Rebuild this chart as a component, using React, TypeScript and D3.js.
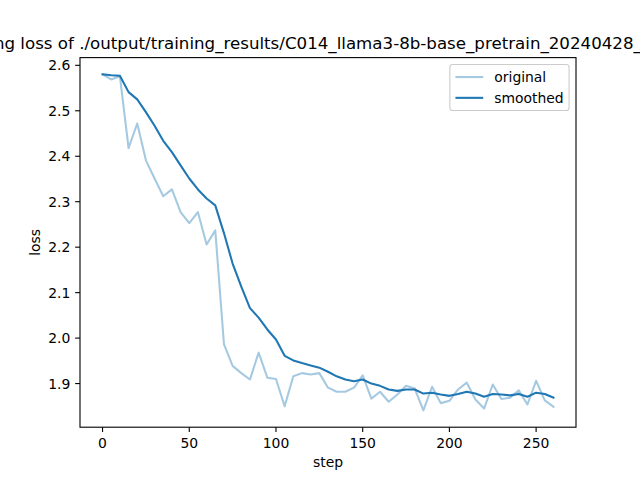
import React from "react";
import * as d3 from "d3";

const steps = [0, 5, 10, 15, 20, 25, 30, 35, 40, 45, 50, 55, 60, 65, 70, 75, 80, 85, 90, 95, 100, 105, 110, 115, 120, 125, 130, 135, 140, 145, 150, 155, 160, 165, 170, 175, 180, 185, 190, 195, 200, 205, 210, 215, 220, 225, 230, 235, 240, 245, 250, 255, 260];

const originalLoss = [2.580, 2.569, 2.576, 2.418, 2.472, 2.391, 2.351, 2.312, 2.327, 2.277, 2.253, 2.277, 2.206, 2.237, 1.987, 1.939, 1.923, 1.909, 1.968, 1.913, 1.910, 1.850, 1.916, 1.923, 1.920, 1.923, 1.891, 1.882, 1.882, 1.891, 1.918, 1.867, 1.882, 1.860, 1.876, 1.895, 1.889, 1.841, 1.893, 1.857, 1.862, 1.887, 1.902, 1.865, 1.845, 1.898, 1.866, 1.869, 1.885, 1.854, 1.906, 1.863, 1.849];

const smoothedLoss = [2.580, 2.578, 2.577, 2.541, 2.525, 2.497, 2.467, 2.434, 2.409, 2.380, 2.351, 2.327, 2.307, 2.292, 2.231, 2.164, 2.113, 2.066, 2.045, 2.019, 1.997, 1.961, 1.951, 1.945, 1.940, 1.935, 1.926, 1.916, 1.909, 1.905, 1.909, 1.900, 1.895, 1.887, 1.884, 1.887, 1.887, 1.878, 1.880, 1.876, 1.873, 1.877, 1.882, 1.878, 1.871, 1.877, 1.876, 1.874, 1.877, 1.871, 1.880, 1.877, 1.869];

const xTicks = [0, 50, 100, 150, 200, 250];
const yTicks = [1.9, 2.0, 2.1, 2.2, 2.3, 2.4, 2.5, 2.6];
const seriesLabels = ["original", "smoothed"];
const titleText = "training loss of ./output/training_results/C014_llama3-8b-base_pretrain_20240428_031547";

export default function App() {
  const W = 640, H = 480;
  const L = 80, R = 576, T = 57.6, B = 427.2;
  const color = "#1f77b4";
  const font = "'DejaVu Sans', sans-serif";
  const fs = 13.9;

  const xExt = d3.extent(steps) as [number, number];
  const xPad = (xExt[1] - xExt[0]) * 0.05;
  const x = d3.scaleLinear().domain([xExt[0] - xPad, xExt[1] + xPad]).range([L, R]);

  const all = originalLoss.concat(smoothedLoss);
  const yExt = d3.extent(all) as [number, number];
  const yPad = (yExt[1] - yExt[0]) * 0.05;
  const y = d3.scaleLinear().domain([yExt[0] - yPad, yExt[1] + yPad]).range([B, T]);

  const line = d3.line<number>().x((_, i) => x(steps[i])).y((d) => y(d));

  const legW = 119.2, legH = 46;
  const legX = R - 6.94 - legW, legY = T + 6.94;
  const rowY = [legY + 12.5, legY + 33.3];

  return (
    <div style={{ position: "fixed", left: 0, top: 0, width: W, height: H, background: "#fff" }}>
      <svg width={W} height={H} style={{ display: "block" }} fontFamily={font}>
        <rect x={0} y={0} width={W} height={H} fill="#fff" />
        <path d={line(originalLoss) || ""} fill="none" stroke={color} strokeOpacity={0.4} strokeWidth={2.08} strokeLinejoin="round" strokeLinecap="square" />
        <path d={line(smoothedLoss) || ""} fill="none" stroke={color} strokeWidth={2.08} strokeLinejoin="round" strokeLinecap="square" />
        <rect x={L} y={T} width={R - L} height={B - T} fill="none" stroke="#000" strokeWidth={1.1} />
        {xTicks.map((t) => (
          <g key={"x" + t}>
            <line x1={x(t)} x2={x(t)} y1={B} y2={B + 4.86} stroke="#000" strokeWidth={1.1} />
            <text x={x(t)} y={B + 9.7 + 10.6} fontSize={fs} textAnchor="middle" fill="#000">{t}</text>
          </g>
        ))}
        {yTicks.map((t) => (
          <g key={"y" + t}>
            <line x1={L - 4.86} x2={L} y1={y(t)} y2={y(t)} stroke="#000" strokeWidth={1.1} />
            <text x={L - 9.7} y={y(t) + 5} fontSize={fs} textAnchor="end" fill="#000">{t.toFixed(1)}</text>
          </g>
        ))}
        <text x={(L + R) / 2} y={467} fontSize={fs} textAnchor="middle" fill="#000">step</text>
        <text transform={`translate(${39.5},${(T + B) / 2}) rotate(-90)`} fontSize={fs} textAnchor="middle" fill="#000">loss</text>
        <text x={(L + R) / 2} y={T - 8.33} fontSize={16.67} textAnchor="middle" fill="#000">{titleText}</text>
        <rect x={legX} y={legY} width={legW} height={legH} rx={2.8} fill="#fff" fillOpacity={0.8} stroke="#cccccc" strokeWidth={1.1} />
        {seriesLabels.map((lab, i) => (
          <g key={lab}>
            <line x1={legX + 5.56} x2={legX + 5.56 + 27.8} y1={rowY[i]} y2={rowY[i]} stroke={color} strokeOpacity={i === 0 ? 0.4 : 1} strokeWidth={2.08} />
            <text x={legX + 5.56 + 27.8 + 11.1} y={rowY[i] + 4.9} fontSize={fs} fill="#000">{lab}</text>
          </g>
        ))}
      </svg>
    </div>
  );
}
